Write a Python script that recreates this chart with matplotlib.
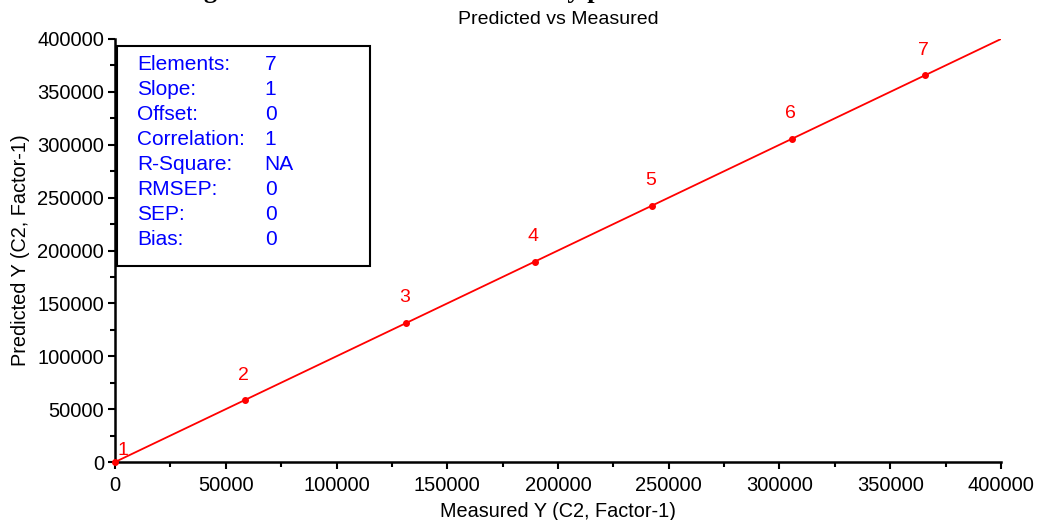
import matplotlib.pyplot as plt
from matplotlib.ticker import MultipleLocator

plt.rcParams['font.family'] = ['Liberation Sans', 'DejaVu Sans']

# data
sample_ids = ['1', '2', '3', '4', '5', '6', '7']
measured = [0, 58500, 131500, 189500, 242500, 305500, 365500]
predicted = [0, 58500, 131500, 189500, 242500, 305500, 365500]
fit_x = [0, 400000]
fit_y = [0, 400000]

stat_names = ['Elements:', 'Slope:', 'Offset:', 'Correlation:', 'R-Square:',
              'RMSEP:', 'SEP:', 'Bias:']
stat_values = ['7', '1', '0', '1', 'NA', '0', '0', '0']

fig = plt.figure(figsize=(10.39, 5.2), dpi=100)
ax = fig.add_axes([0.1107, 0.1115, 0.8527, 0.8135])

ax.plot(fit_x, fit_y, color='red', lw=1.3, zorder=2)
ax.plot(measured, predicted, 'o', color='red', ms=4, zorder=3, clip_on=False)

for i, lab in enumerate(sample_ids):
    if i == 0:
        off = (6, 8)
    else:
        off = (-1, 18)
    ax.annotate(lab, (measured[i], predicted[i]), xytext=off, textcoords='offset points',
                ha='center', va='center', color='red', fontsize=14)

ax.set_xlim(0, 400000)
ax.set_ylim(0, 400000)
ax.xaxis.set_major_locator(MultipleLocator(50000))
ax.xaxis.set_minor_locator(MultipleLocator(25000))
ax.yaxis.set_major_locator(MultipleLocator(50000))
ax.yaxis.set_minor_locator(MultipleLocator(25000))
ax.tick_params(which='major', length=5, width=1.5, labelsize=14.5, direction='out', pad=3)
ax.tick_params(axis='x', which='major', pad=5)
ax.tick_params(which='minor', length=3.5, width=1.5, direction='out')
for s in ['top', 'right']:
    ax.spines[s].set_visible(False)
for s in ['left', 'bottom']:
    ax.spines[s].set_linewidth(1.8)

ax.set_title('Predicted vs Measured', fontsize=14, pad=11)
ax.set_xlabel('Measured Y (C2, Factor-1)', fontsize=14.3, labelpad=5)
ax.set_ylabel('Predicted Y (C2, Factor-1)', fontsize=14.3, labelpad=5)

# statistics box
box = plt.Rectangle((0.002, 0.463), 0.286, 0.52, transform=ax.transAxes,
                    facecolor='white', edgecolor='black', lw=1.5, zorder=4)
ax.add_patch(box)
for i, (n, v) in enumerate(zip(stat_names, stat_values)):
    yy = 0.94 - i * 25 / 423
    ax.text(0.0248, yy, n, transform=ax.transAxes, color='#0000ff', fontsize=15,
            va='center', zorder=5)
    ax.text(0.169, yy, v, transform=ax.transAxes, color='#0000ff', fontsize=15,
            va='center', zorder=5)

# heading at the very top of the page, cut off so only descenders show
fig.text(0.106, 1.003, 'Modeling Results and Statistics Summary plot',
         family='Liberation Serif', fontweight='bold', fontsize=19,
         ha='left', va='baseline')

fig.savefig('out.png', dpi=100)
